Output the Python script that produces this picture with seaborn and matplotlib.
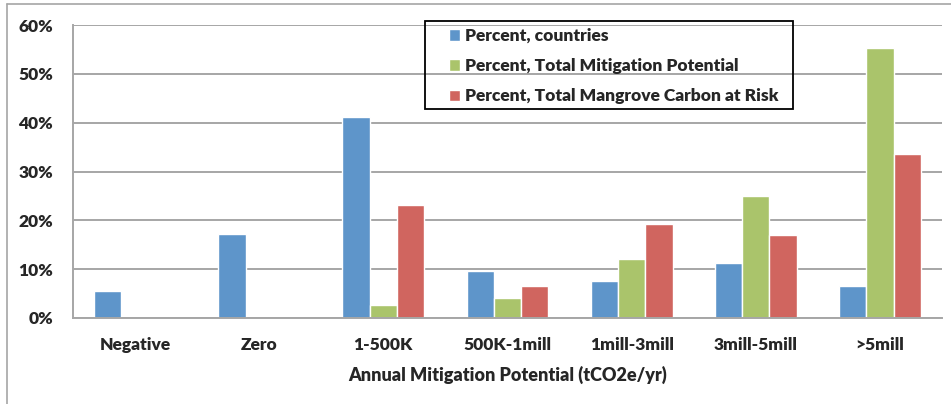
import pandas as pd
import matplotlib.pyplot as plt
import seaborn as sns
from matplotlib.ticker import PercentFormatter, FixedLocator
from matplotlib.patches import Rectangle
from matplotlib.lines import Line2D

# data (fractions)
categories = ["Negative", "Zero", "1-500K", "500K-1mill", "1mill-3mill", "3mill-5mill", ">5mill"]
series_names = ["Percent, countries", "Percent, Total Mitigation Potential",
                "Percent, Total Mangrove Carbon at Risk"]
pct_countries = [0.055, 0.172, 0.412, 0.096, 0.075, 0.113, 0.066]
pct_mitigation = [0.0, 0.0, 0.027, 0.040, 0.121, 0.249, 0.553]
pct_carbon = [0.0, 0.0, 0.231, 0.066, 0.193, 0.169, 0.335]
colors = ["#5E95CA", "#AAC46B", "#D0655F"]

rows = []
for name, vals in zip(series_names, [pct_countries, pct_mitigation, pct_carbon]):
    for cat, v in zip(categories, vals):
        rows.append({"category": cat, "series": name, "value": v})
df = pd.DataFrame(rows)

sns.set_style("white")
plt.rcParams['font.family'] = ['Lato', 'DejaVu Sans']
plt.rcParams['font.weight'] = 'heavy'

fig = plt.figure(figsize=(9.51, 4.04), dpi=100)
ax = fig.add_axes([73 / 951, 86 / 404, 869 / 951, 293 / 404])

sns.barplot(data=df, x="category", y="value", hue="series", order=categories,
            hue_order=series_names, palette=colors, width=0.66, gap=0,
            saturation=1, ax=ax)

gray = "#A6A6A6"
ax.set_ylim(0, 0.6)
ax.set_xlim(-0.5, len(categories) - 0.5)
ax.yaxis.set_major_formatter(PercentFormatter(1, decimals=0))
ax.set_yticks([0, 0.1, 0.2, 0.3, 0.4, 0.5, 0.6])
ax.yaxis.grid(True, color=gray, lw=1.4)
ax.set_axisbelow(True)
for s in ["top", "right"]:
    ax.spines[s].set_visible(False)
for s in ["left", "bottom"]:
    ax.spines[s].set_color(gray)
    ax.spines[s].set_linewidth(1.4)

ax.tick_params(axis="y", length=4.3, width=1.2, color=gray, pad=10, labelsize=12.5)
ax.tick_params(axis="x", which="major", length=0, pad=14, labelsize=12.5)
ax.xaxis.set_minor_locator(FixedLocator([i - 0.5 for i in range(len(categories) + 1)]))
ax.tick_params(axis="x", which="minor", length=4.3, width=1.2, color=gray, direction="out")

ax.set_xlabel("Annual Mitigation Potential (tCO2e/yr)", fontsize=13, fontweight="heavy", labelpad=9)
ax.set_ylabel("")

handles, labels = ax.get_legend_handles_labels()
ax.legend(handles, labels, loc="upper left", bbox_to_anchor=(449 / 951, 1 - 28 / 404),
          bbox_transform=fig.transFigure, frameon=False, fontsize=12.5,
          handlelength=0.65, handleheight=0.65, handletextpad=0.3, labelspacing=0.82,
          borderpad=0, borderaxespad=0)

# legend frame and outer chart border
fig.add_artist(Rectangle((425 / 951, 1 - 109 / 404), 368 / 951, 88 / 404,
                         transform=fig.transFigure, fill=False, edgecolor="black", lw=1.3))
fig.add_artist(Line2D([7 / 951, 7 / 951], [0, 1 - 4 / 404], transform=fig.transFigure,
                      color=gray, lw=1.2))
fig.add_artist(Line2D([7 / 951, 1], [1 - 4 / 404, 1 - 4 / 404], transform=fig.transFigure,
                      color=gray, lw=1.2))

fig.savefig("out.png", dpi=100)
